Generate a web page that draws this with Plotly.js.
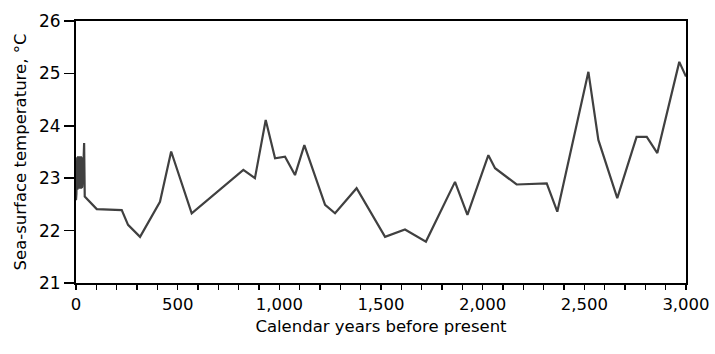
<!DOCTYPE html>
<html>
<head>
<meta charset="utf-8">
<script src="https://cdn.plot.ly/plotly-3.0.1.min.js"></script>
<style>
  html, body { margin: 0; padding: 0; background: #fff; }
  #chart { width: 715px; height: 354px; }
</style>
</head>
<body>
<div id="chart"></div>
<script>
// Calendar years before present
const years = [0, 2, 4, 5, 6, 7, 8, 9, 10, 11, 12, 13, 14, 15, 16, 17, 18, 19, 20,
  21, 22, 23, 24, 25, 26, 27, 28, 29, 30, 31, 32, 33, 34, 35, 36, 40, 43,
  102, 225, 256, 315, 413, 468, 569, 823, 880, 933, 979, 1028, 1077, 1123,
  1225, 1274, 1380, 1520, 1618, 1721, 1864, 1925, 2028, 2061, 2167, 2315,
  2367, 2520, 2569, 2662, 2757, 2807, 2859, 2967, 3000];
// Sea-surface temperature, °C
const sst = [22.58, 22.7, 23.1, 22.8, 23.4, 22.78, 23.38, 22.8, 23.42, 22.85, 23.4, 22.8, 23.35, 22.8, 23.42, 22.82, 23.4, 22.85, 23.38,
  22.8, 23.4, 22.85, 23.42, 22.8, 23.38, 22.85, 23.4, 22.82, 23.36, 22.85, 23.4, 22.88, 23.35, 22.9, 23.2, 23.67, 22.65,
  22.41, 22.39, 22.11, 21.88, 22.55, 23.51, 22.33, 23.16, 23.0, 24.11, 23.38, 23.41, 23.06, 23.63,
  22.49, 22.33, 22.81, 21.88, 22.02, 21.79, 22.93, 22.30, 23.44, 23.19, 22.88, 22.90,
  22.36, 25.03, 23.73, 22.62, 23.79, 23.79, 23.48, 25.22, 24.94];

const xTickVals = [0, 500, 1000, 1500, 2000, 2500, 3000];
const xTickText = ['0', '500', '1,000', '1,500', '2,000', '2,500', '3,000'];
const yTickVals = [21, 22, 23, 24, 25, 26];

const fontFam = 'DejaVu Sans, Arial, sans-serif';

const trace = {
  x: years, y: sst, type: 'scatter', mode: 'lines',
  line: { color: '#404040', width: 2.2 },
  hoverinfo: 'skip'
};

const layout = {
  width: 715, height: 354,
  margin: { l: 76, r: 29, t: 21, b: 71 },
  paper_bgcolor: '#fff', plot_bgcolor: '#fff',
  showlegend: false,
  font: { family: fontFam, color: '#000', size: 16 },
  xaxis: {
    range: [0, 3000],
    tickmode: 'array', tickvals: xTickVals, ticktext: xTickText,
    ticks: 'outside', ticklen: 5, tickwidth: 1.5, tickcolor: '#000',
    minor: { dtick: 100, tick0: 0, ticks: 'outside', ticklen: 5, tickwidth: 1.5, tickcolor: '#000', showgrid: false },
    showline: true, linecolor: '#000', linewidth: 2, mirror: true,
    showgrid: false, zeroline: false,
    tickfont: { family: fontFam, size: 16.5, color: '#000' },
    title: { text: 'Calendar years before present', font: { family: fontFam, size: 16.5, color: '#000' }, standoff: 8 }
  },
  yaxis: {
    range: [21, 26],
    tickmode: 'array', tickvals: yTickVals,
    ticks: 'outside', ticklen: 10, tickwidth: 1.5, tickcolor: '#000',
    showline: true, linecolor: '#000', linewidth: 2, mirror: true,
    showgrid: false, zeroline: false,
    tickfont: { family: fontFam, size: 17, color: '#000' },
    title: { text: 'Sea-surface temperature, °C', font: { family: fontFam, size: 16.5, color: '#000' }, standoff: 8 }
  }
};

Plotly.newPlot('chart', [trace], layout, { staticPlot: true, displayModeBar: false });
</script>
</body>
</html>
